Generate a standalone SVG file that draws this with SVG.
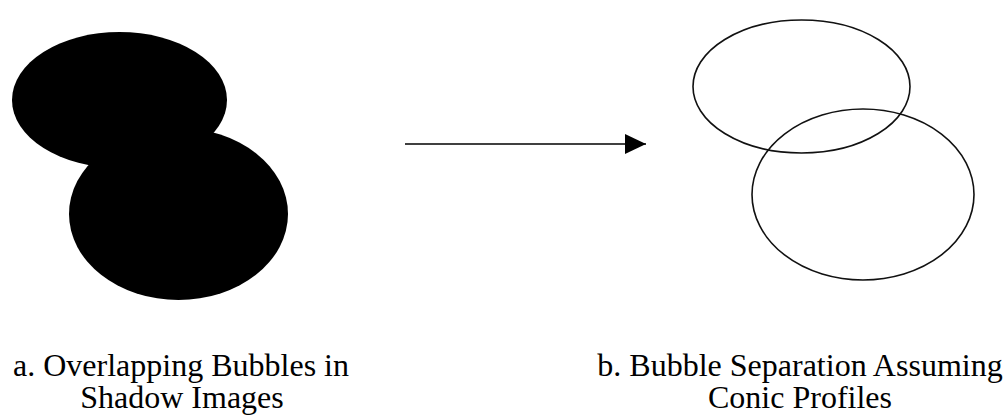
<svg xmlns="http://www.w3.org/2000/svg" width="1005" height="419" viewBox="0 0 1005 419">
<style>
.shadow{fill:#000;stroke:none}
.outline{fill:none;stroke:#111;stroke-width:1.6}
.label{font-family:"Liberation Serif","Times New Roman",serif;font-size:32px;fill:#000;text-anchor:middle}
.conn{stroke:#000;stroke-width:1.6;fill:none}
</style>
<defs>
<marker id="arrow" markerUnits="userSpaceOnUse" markerWidth="22" markerHeight="22" refX="21" refY="10" orient="auto">
<polygon points="0,0 21,10 0,20" fill="#000"/>
</marker>
</defs>
<rect width="1005" height="419" fill="#fff"/>
<g id="shadow-bubbles">
<ellipse class="shadow" cx="119.5" cy="100" rx="107.5" ry="68"/>
<ellipse class="shadow" cx="178.5" cy="214" rx="109.5" ry="86"/>
</g>
<g id="separated-bubbles">
<ellipse class="outline" cx="801.5" cy="86.5" rx="108.5" ry="66.5"/>
<ellipse class="outline" cx="863" cy="194.5" rx="111" ry="85.5"/>
</g>
<g id="connectors">
<line class="conn" x1="405" y1="144" x2="646" y2="144" marker-end="url(#arrow)"/>
</g>
<g id="label-a">
<text class="label" x="181" y="376">a. Overlapping Bubbles in</text>
<text class="label" x="182" y="408">Shadow Images</text>
</g>
<g id="label-b">
<text class="label" x="800" y="376">b. Bubble Separation Assuming</text>
<text class="label" x="800" y="408">Conic Profiles</text>
</g>
</svg>
